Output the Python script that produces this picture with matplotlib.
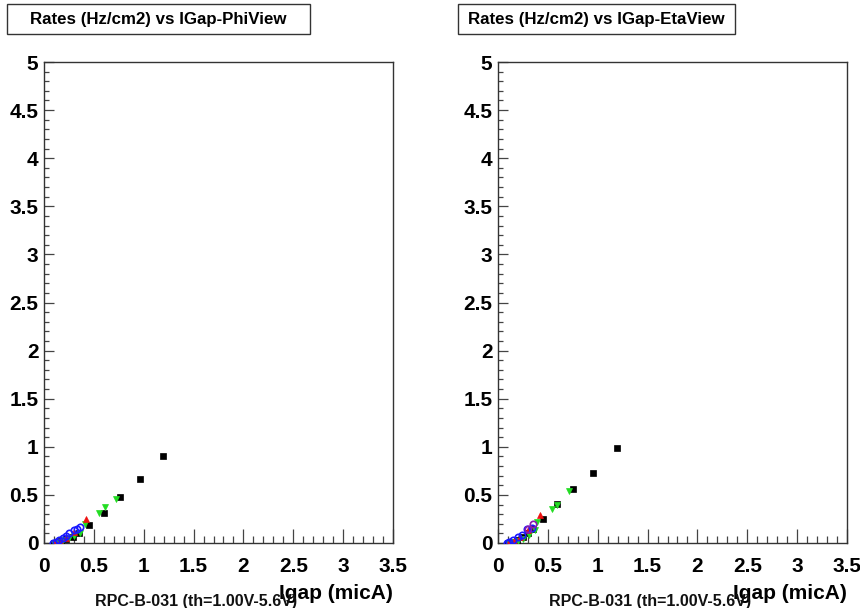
import matplotlib
matplotlib.use("Agg")
import matplotlib.pyplot as plt
from matplotlib.ticker import MultipleLocator, FuncFormatter
from matplotlib.patches import Rectangle

plt.rcParams['font.family'] = ['Liberation Sans', 'DejaVu Sans']

# ---- data: rate (Hz/cm2) vs gap current (micA) ----
phi_black_x = [0.10, 0.13, 0.17, 0.22, 0.288, 0.348, 0.455, 0.605, 0.762, 0.963, 1.197]
phi_black_y = [0.004, 0.012, 0.025, 0.040, 0.060, 0.107, 0.184, 0.315, 0.481, 0.662, 0.904]
phi_green_x = [0.10, 0.14, 0.19, 0.25, 0.30, 0.361, 0.415, 0.548, 0.612, 0.722]
phi_green_y = [0.004, 0.015, 0.030, 0.055, 0.075, 0.104, 0.194, 0.309, 0.370, 0.457]
phi_red_x = [0.11, 0.16, 0.22, 0.30, 0.421]
phi_red_y = [0.006, 0.025, 0.050, 0.110, 0.253]
phi_blue_x = [0.094, 0.12, 0.154, 0.187, 0.22, 0.251, 0.304, 0.334, 0.361]
phi_blue_y = [0.005, 0.012, 0.035, 0.049, 0.073, 0.100, 0.135, 0.149, 0.170]

eta_black_x = [0.10, 0.14, 0.19, 0.25, 0.30, 0.348, 0.449, 0.595, 0.749, 0.956, 1.19]
eta_black_y = [0.004, 0.015, 0.030, 0.060, 0.100, 0.142, 0.246, 0.405, 0.558, 0.725, 0.984]
eta_green_x = [0.10, 0.15, 0.20, 0.254, 0.31, 0.37, 0.394, 0.539, 0.59, 0.715]
eta_green_y = [0.004, 0.015, 0.025, 0.038, 0.080, 0.130, 0.222, 0.350, 0.400, 0.544]
eta_red_x = [0.11, 0.16, 0.22, 0.30, 0.418]
eta_red_y = [0.006, 0.025, 0.060, 0.130, 0.291]
eta_blue_x = [0.087, 0.113, 0.154, 0.20, 0.238, 0.288, 0.338]
eta_blue_y = [0.005, 0.015, 0.031, 0.060, 0.083, 0.142, 0.153]
eta_purple_x = [0.30, 0.355]
eta_purple_y = [0.150, 0.198]

titles = ["Rates (Hz/cm2) vs IGap-PhiView", "Rates (Hz/cm2) vs IGap-EtaView"]
x_label = "Igap (micA)"
chamber_label = "RPC-B-031 (th=1.00V-5.6V)"

W, H = 860, 608
fig = plt.figure(figsize=(W / 100, H / 100), dpi=100)
fig.patch.set_facecolor("white")


def fx(px):
    return px / W


def fy(py):
    return 1 - py / H


panels = [
    dict(left=44, title_box=(7, 310),
         series=[(phi_black_x, phi_black_y, 's', 'black', 'black'),
                 (phi_green_x, phi_green_y, 'v', '#22dd22', '#22dd22'),
                 (phi_red_x, phi_red_y, '^', '#ee1111', '#ee1111'),
                 (phi_blue_x, phi_blue_y, 'o', 'none', '#1a1aff')]),
    dict(left=498, title_box=(458, 735),
         series=[(eta_black_x, eta_black_y, 's', 'black', 'black'),
                 (eta_green_x, eta_green_y, 'v', '#22dd22', '#22dd22'),
                 (eta_red_x, eta_red_y, '^', '#ee1111', '#ee1111'),
                 (eta_blue_x, eta_blue_y, 'o', 'none', '#1a1aff'),
                 (eta_purple_x, eta_purple_y, 'o', 'none', '#8a1ab0')]),
]

top, bottom, width = 62, 543, 349


def fmt(v, pos):
    s = ("%.1f" % v).rstrip('0').rstrip('.')
    return s


for p, title in zip(panels, titles):
    ax = fig.add_axes([fx(p['left']), fy(bottom), fx(width), (bottom - top) / H])
    for xs, ys, m, fc, ec in p['series']:
        ax.plot(xs, ys, linestyle='none', marker=m, markersize=4.3 if m != 'o' else 4.6,
                markerfacecolor=fc, markeredgecolor=ec, markeredgewidth=1.2 if m == 'o' else 0.5,
                zorder=3)
    ax.set_xlim(0, 3.5)
    ax.set_ylim(0, 5)
    ax.xaxis.set_major_locator(MultipleLocator(0.5))
    ax.xaxis.set_minor_locator(MultipleLocator(0.1))
    ax.yaxis.set_major_locator(MultipleLocator(0.5))
    ax.yaxis.set_minor_locator(MultipleLocator(0.1))
    ax.xaxis.set_major_formatter(FuncFormatter(fmt))
    ax.yaxis.set_major_formatter(FuncFormatter(fmt))
    ax.tick_params(axis='x', which='major', direction='in', length=10, width=0.9,
                   color='#444444', pad=10, labelsize=15)
    ax.tick_params(axis='x', which='minor', direction='in', length=5, width=0.9, color='#444444')
    ax.tick_params(axis='y', which='major', direction='in', length=7.5, width=0.9,
                   color='#444444', pad=4, labelsize=15)
    ax.tick_params(axis='y', which='minor', direction='in', length=3.7, width=0.9, color='#444444')
    for lab in ax.get_xticklabels() + ax.get_yticklabels():
        lab.set_fontweight('bold')
    for sp in ax.spines.values():
        sp.set_color('#333333')
        sp.set_linewidth(1.0)

    # axis title and chamber tag below the frame
    ax.text(1.0, -0.085, x_label, transform=ax.transAxes, ha='right', va='top',
            fontsize=15, fontweight='bold')
    ax.text(0.147, -0.107, chamber_label, transform=ax.transAxes, ha='left', va='top',
            fontsize=11.5, fontweight='bold', color='#111111')

    # title pave
    x0, x1 = p['title_box']
    fig.patches.append(Rectangle((fx(x0), fy(34)), fx(x1 - x0), (34 - 4) / H,
                                 transform=fig.transFigure, facecolor='white',
                                 edgecolor='#333333', linewidth=1.0))
    fig.text(fx((x0 + x1) / 2), fy(19.5), title, ha='center', va='center',
             fontsize=12.2, fontweight='bold')

fig.savefig("out.png", dpi=100)
